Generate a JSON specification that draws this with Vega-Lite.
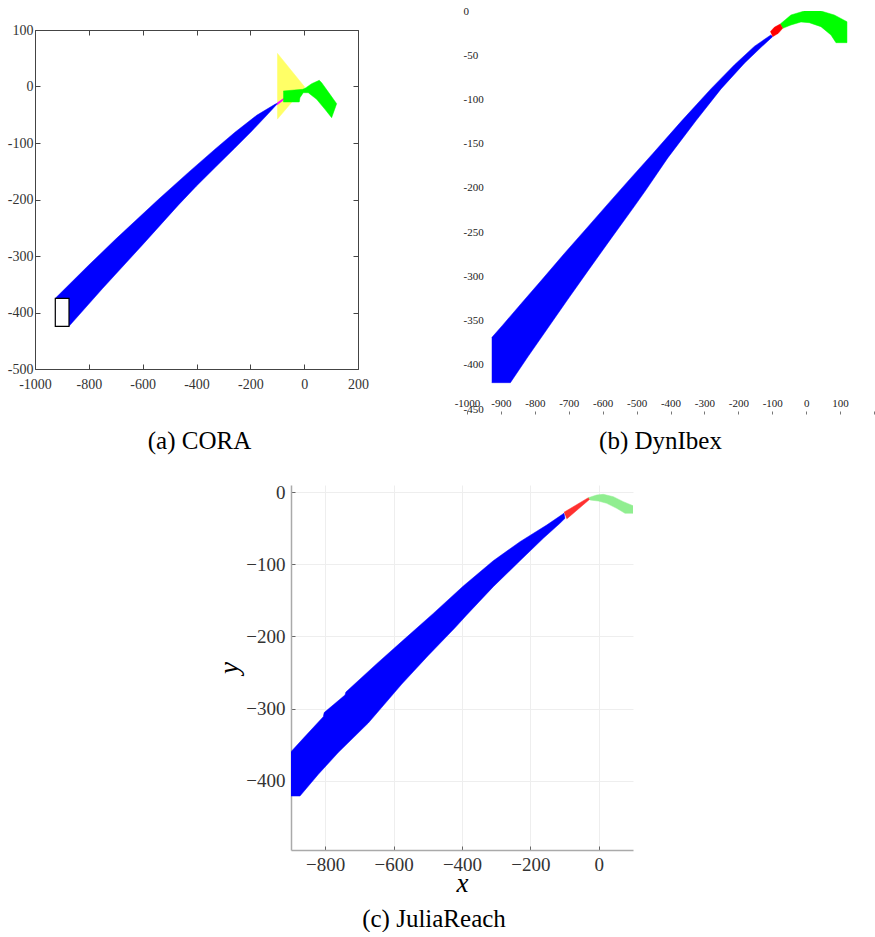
{
  "$schema": "https://vega.github.io/schema/vega-lite/v6.json",
  "background": "white",
  "padding": {"left": 6, "top": 5, "right": 0, "bottom": 0},
  "config": {
    "view": {"stroke": null},
    "title": {"font": "Liberation Serif", "fontSize": 25, "fontWeight": "normal", "color": "#000", "anchor": "middle", "frame": "group"},
    "axis": {"labelFlush": false, "labelOverlap": false, "grid": false, "title": null}
  },
  "datasets": {
    "cora": [
      {"s": "yellow", "i": 1, "x": -100, "y": 59},
      {"s": "yellow", "i": 2, "x": 2, "y": -1},
      {"s": "yellow", "i": 3, "x": -100, "y": -58},
      {"s": "blue", "i": 1, "x": -924.6, "y": -374.9},
      {"s": "blue", "i": 2, "x": -800, "y": -316},
      {"s": "blue", "i": 3, "x": -700, "y": -270},
      {"s": "blue", "i": 4, "x": -542, "y": -200},
      {"s": "blue", "i": 5, "x": -430, "y": -152},
      {"s": "blue", "i": 6, "x": -331.4, "y": -111},
      {"s": "blue", "i": 7, "x": -257.1, "y": -81},
      {"s": "blue", "i": 8, "x": -176.5, "y": -51},
      {"s": "blue", "i": 9, "x": -108.5, "y": -31.5},
      {"s": "blue", "i": 10, "x": -96.2, "y": -28.7},
      {"s": "blue", "i": 11, "x": -133, "y": -48},
      {"s": "blue", "i": 12, "x": -195, "y": -79},
      {"s": "blue", "i": 13, "x": -260, "y": -110},
      {"s": "blue", "i": 14, "x": -330, "y": -143},
      {"s": "blue", "i": 15, "x": -400, "y": -176},
      {"s": "blue", "i": 16, "x": -467.7, "y": -210},
      {"s": "blue", "i": 17, "x": -600, "y": -280},
      {"s": "blue", "i": 18, "x": -750, "y": -358},
      {"s": "blue", "i": 19, "x": -873.7, "y": -424.4},
      {"s": "blue", "i": 20, "x": -924.6, "y": -424.4},
      {"s": "magenta", "i": 1, "x": -102, "y": -33},
      {"s": "magenta", "i": 2, "x": -78, "y": -24.5},
      {"s": "magenta", "i": 3, "x": -76, "y": -21},
      {"s": "magenta", "i": 4, "x": -99, "y": -28.5},
      {"s": "green", "i": 1, "x": -77.6, "y": -8},
      {"s": "green", "i": 2, "x": -5.6, "y": -5},
      {"s": "green", "i": 3, "x": 6.7, "y": -2.1},
      {"s": "green", "i": 4, "x": 27.9, "y": 5},
      {"s": "green", "i": 5, "x": 56.1, "y": 11},
      {"s": "green", "i": 6, "x": 65, "y": 6.7},
      {"s": "green", "i": 7, "x": 95.8, "y": -13.8},
      {"s": "green", "i": 8, "x": 120.7, "y": -30.4},
      {"s": "green", "i": 9, "x": 102.1, "y": -55.2},
      {"s": "green", "i": 10, "x": 77.3, "y": -40.4},
      {"s": "green", "i": 11, "x": 46.4, "y": -22.7},
      {"s": "green", "i": 12, "x": 15.2, "y": -11},
      {"s": "green", "i": 13, "x": -3.3, "y": -11},
      {"s": "green", "i": 14, "x": -15.6, "y": -19.8},
      {"s": "green", "i": 15, "x": -18.2, "y": -27.4},
      {"s": "green", "i": 16, "x": -77.6, "y": -27.4}
    ],
    "dyn": [
      {"s": "blue", "i": 1, "x": -927, "y": -369},
      {"s": "blue", "i": 2, "x": -895, "y": -355},
      {"s": "blue", "i": 3, "x": -840, "y": -330.5},
      {"s": "blue", "i": 4, "x": -780, "y": -304},
      {"s": "blue", "i": 5, "x": -713, "y": -274},
      {"s": "blue", "i": 6, "x": -644, "y": -244},
      {"s": "blue", "i": 7, "x": -580, "y": -216},
      {"s": "blue", "i": 8, "x": -520, "y": -190},
      {"s": "blue", "i": 9, "x": -452, "y": -161},
      {"s": "blue", "i": 10, "x": -369, "y": -125},
      {"s": "blue", "i": 11, "x": -281, "y": -88},
      {"s": "blue", "i": 12, "x": -212, "y": -61},
      {"s": "blue", "i": 13, "x": -153, "y": -40},
      {"s": "blue", "i": 14, "x": -104, "y": -27},
      {"s": "blue", "i": 15, "x": -99, "y": -29},
      {"s": "blue", "i": 16, "x": -133, "y": -41},
      {"s": "blue", "i": 17, "x": -182, "y": -59},
      {"s": "blue", "i": 18, "x": -251, "y": -88},
      {"s": "blue", "i": 19, "x": -325, "y": -124},
      {"s": "blue", "i": 20, "x": -408, "y": -166},
      {"s": "blue", "i": 21, "x": -472, "y": -202},
      {"s": "blue", "i": 22, "x": -507, "y": -221},
      {"s": "blue", "i": 23, "x": -575, "y": -257},
      {"s": "blue", "i": 24, "x": -644, "y": -294},
      {"s": "blue", "i": 25, "x": -703, "y": -326},
      {"s": "blue", "i": 26, "x": -762, "y": -358.5},
      {"s": "blue", "i": 27, "x": -821, "y": -391},
      {"s": "blue", "i": 28, "x": -872, "y": -420},
      {"s": "blue", "i": 29, "x": -927, "y": -420},
      {"s": "red", "i": 1, "x": -105.8, "y": -23.4},
      {"s": "red", "i": 2, "x": -94, "y": -18.5},
      {"s": "red", "i": 3, "x": -76.4, "y": -14.7},
      {"s": "red", "i": 4, "x": -69.3, "y": -19.6},
      {"s": "red", "i": 5, "x": -82.2, "y": -25.2},
      {"s": "red", "i": 6, "x": -98.8, "y": -29},
      {"s": "green", "i": 1, "x": -76.4, "y": -14.7},
      {"s": "green", "i": 2, "x": -44.8, "y": -4.5},
      {"s": "green", "i": 3, "x": -5.6, "y": 0},
      {"s": "green", "i": 4, "x": 43.6, "y": 0},
      {"s": "green", "i": 5, "x": 82.9, "y": -4.5},
      {"s": "green", "i": 6, "x": 120.3, "y": -12.1},
      {"s": "green", "i": 7, "x": 120.3, "y": -35.8},
      {"s": "green", "i": 8, "x": 87.9, "y": -35.8},
      {"s": "green", "i": 9, "x": 73.1, "y": -27.1},
      {"s": "green", "i": 10, "x": 43.6, "y": -17.7},
      {"s": "green", "i": 11, "x": 9.2, "y": -13.2},
      {"s": "green", "i": 12, "x": -15.3, "y": -12.4},
      {"s": "green", "i": 13, "x": -44.8, "y": -15.8},
      {"s": "green", "i": 14, "x": -69.3, "y": -19.6}
    ],
    "julia": [
      {"s": "blue", "i": 1, "x": -900, "y": -359.7},
      {"s": "blue", "i": 2, "x": -864, "y": -341.2},
      {"s": "blue", "i": 3, "x": -805.6, "y": -311.2},
      {"s": "blue", "i": 4, "x": -803, "y": -305.5},
      {"s": "blue", "i": 5, "x": -742.1, "y": -281.1},
      {"s": "blue", "i": 6, "x": -739.5, "y": -277},
      {"s": "blue", "i": 7, "x": -650, "y": -238},
      {"s": "blue", "i": 8, "x": -571.6, "y": -205},
      {"s": "blue", "i": 9, "x": -483.9, "y": -168},
      {"s": "blue", "i": 10, "x": -396.2, "y": -130},
      {"s": "blue", "i": 11, "x": -308.5, "y": -95},
      {"s": "blue", "i": 12, "x": -230.4, "y": -68.6},
      {"s": "blue", "i": 13, "x": -152.3, "y": -45.5},
      {"s": "blue", "i": 14, "x": -101.8, "y": -29.2},
      {"s": "blue", "i": 15, "x": -98.8, "y": -36.2},
      {"s": "blue", "i": 16, "x": -113.5, "y": -43.1},
      {"s": "blue", "i": 17, "x": -162.3, "y": -63.9},
      {"s": "blue", "i": 18, "x": -230.4, "y": -95},
      {"s": "blue", "i": 19, "x": -308.5, "y": -131},
      {"s": "blue", "i": 20, "x": -386.3, "y": -170.2},
      {"s": "blue", "i": 21, "x": -420.5, "y": -188},
      {"s": "blue", "i": 22, "x": -500, "y": -227},
      {"s": "blue", "i": 23, "x": -576, "y": -266},
      {"s": "blue", "i": 24, "x": -674, "y": -320},
      {"s": "blue", "i": 25, "x": -689, "y": -327},
      {"s": "blue", "i": 26, "x": -762, "y": -361},
      {"s": "blue", "i": 27, "x": -820, "y": -391},
      {"s": "blue", "i": 28, "x": -873.7, "y": -421.2},
      {"s": "blue", "i": 29, "x": -900, "y": -421.2},
      {"s": "red", "i": 1, "x": -101.8, "y": -27.8},
      {"s": "red", "i": 2, "x": -30.6, "y": -7.6},
      {"s": "red", "i": 3, "x": -25.7, "y": -9.4},
      {"s": "red", "i": 4, "x": -93.9, "y": -37.1},
      {"s": "green", "i": 1, "x": -30.6, "y": -7.6},
      {"s": "green", "i": 2, "x": -6.1, "y": -3.9},
      {"s": "green", "i": 3, "x": 13.2, "y": -2.9},
      {"s": "green", "i": 4, "x": 42.4, "y": -6.2},
      {"s": "green", "i": 5, "x": 71.6, "y": -13.1},
      {"s": "green", "i": 6, "x": 100, "y": -18.7},
      {"s": "green", "i": 7, "x": 100, "y": -29.2},
      {"s": "green", "i": 8, "x": 76.6, "y": -29.2},
      {"s": "green", "i": 9, "x": 52.3, "y": -22.3},
      {"s": "green", "i": 10, "x": 23.1, "y": -15.4},
      {"s": "green", "i": 11, "x": -1.5, "y": -12.2},
      {"s": "green", "i": 12, "x": -25.7, "y": -10.8}
    ]
  },
  "vconcat": [
    {
      "hconcat": [
        {
          "vconcat": [
            {"width": 1, "height": 11, "mark": "point", "data": {"values": []}},
            {
              "width": 323,
              "height": 339,
              "view": {"stroke": "#444", "strokeWidth": 1},
              "data": {"name": "cora"},
              "title": {"text": "(a) CORA", "orient": "bottom", "offset": 38, "dx": 3},
              "resolve": {"axis": {"x": "independent", "y": "independent"}},
              "layer": [
                {
                  "transform": [{"filter": "datum.s === 'yellow'"}],
                  "mark": {"type": "line", "fill": "#ffff66", "stroke": "#ffff66", "strokeWidth": 0.5},
                  "encoding": {
                    "x": {"field": "x", "type": "quantitative", "scale": {"domain": [-1000, 200], "nice": false, "zero": false},
                      "axis": {"orient": "bottom", "values": [-1000, -800, -600, -400, -200, 0, 200], "format": "d", "labelExpr": "replace(datum.label, '\u2212', '-')", "domain": false, "ticks": true, "tickSize": -5, "tickColor": "#444", "labelPadding": 13, "labelFont": "Liberation Sans Narrow", "labelFontSize": 14, "labelColor": "#333"}},
                    "y": {"field": "y", "type": "quantitative", "scale": {"domain": [-500, 100], "nice": false, "zero": false},
                      "axis": {"orient": "left", "values": [-500, -400, -300, -200, -100, 0, 100], "format": "d", "labelExpr": "replace(datum.label, '\u2212', '-')", "domain": false, "ticks": true, "tickSize": -5, "tickColor": "#444", "labelPadding": 7, "labelFont": "Liberation Sans Narrow", "labelFontSize": 14, "labelColor": "#333"}},
                    "order": {"field": "i", "type": "quantitative"}
                  }
                },
                {
                  "transform": [{"filter": "datum.s === 'blue'"}],
                  "mark": {"type": "line", "fill": "#0000ff", "stroke": "#0000ff", "strokeWidth": 0.5},
                  "encoding": {
                    "x": {"field": "x", "type": "quantitative", "scale": {"domain": [-1000, 200], "nice": false, "zero": false}, "axis": null},
                    "y": {"field": "y", "type": "quantitative", "scale": {"domain": [-500, 100], "nice": false, "zero": false}, "axis": null},
                    "order": {"field": "i", "type": "quantitative"}
                  }
                },
                {
                  "transform": [{"filter": "datum.s === 'magenta'"}],
                  "mark": {"type": "line", "fill": "#ff00ff", "stroke": "#ff00ff", "strokeWidth": 0.5},
                  "encoding": {
                    "x": {"field": "x", "type": "quantitative", "axis": null},
                    "y": {"field": "y", "type": "quantitative", "axis": null},
                    "order": {"field": "i", "type": "quantitative"}
                  }
                },
                {
                  "transform": [{"filter": "datum.s === 'green'"}],
                  "mark": {"type": "line", "fill": "#00ff00", "stroke": "#00ff00", "strokeWidth": 0.5},
                  "encoding": {
                    "x": {"field": "x", "type": "quantitative", "axis": null},
                    "y": {"field": "y", "type": "quantitative", "axis": null},
                    "order": {"field": "i", "type": "quantitative"}
                  }
                },
                {
                  "data": {"values": [{"x1": -924.6, "x2": -873.7, "y1": -424.4, "y2": -374.9}]},
                  "mark": {"type": "rect", "fill": "white", "stroke": "black", "strokeWidth": 1.2},
                  "encoding": {
                    "x": {"field": "x1", "type": "quantitative",
                      "axis": {"orient": "top", "values": [-1000, -800, -600, -400, -200, 0, 200], "labels": false, "domain": false, "ticks": true, "tickSize": -5, "tickColor": "#444"}},
                    "x2": {"field": "x2"},
                    "y": {"field": "y1", "type": "quantitative",
                      "axis": {"orient": "right", "values": [-500, -400, -300, -200, -100, 0, 100], "labels": false, "domain": false, "ticks": true, "tickSize": -5, "tickColor": "#444"}},
                    "y2": {"field": "y2"}
                  }
                }
              ]
            }
          ],
          "spacing": 0
        },
        {
          "width": 407,
          "height": 400,
          "data": {"name": "dyn"},
          "title": {"text": "(b) DynIbex", "orient": "bottom", "offset": 14, "dx": -10},
          "encoding": {
            "x": {"field": "x", "type": "quantitative", "scale": {"domain": [-1000, 200], "nice": false, "zero": false},
              "axis": {"orient": "bottom", "values": [-1000, -900, -800, -700, -600, -500, -400, -300, -200, -100, 0, 100, 200], "format": "d", "labelExpr": "datum.value == 200 ? '' : replace(datum.label, '\u2212', '-')", "domain": false, "ticks": true, "tickSize": 3, "tickColor": "#777", "labelPadding": -11, "labelBaseline": "middle", "labelFont": "Liberation Sans Narrow", "labelFontSize": 11, "labelColor": "#222"}},
            "y": {"field": "y", "type": "quantitative", "scale": {"domain": [-452, 0], "nice": false, "zero": false},
              "axis": {"orient": "left", "values": [0, -50, -100, -150, -200, -250, -300, -350, -400, -450], "format": "d", "labelExpr": "replace(datum.label, '\u2212', '-')", "domain": false, "ticks": false, "tickSize": 0, "labelAlign": "left", "labelBaseline": "middle", "labelPadding": 4, "labelFont": "Liberation Sans Narrow", "labelFontSize": 11, "labelColor": "#222"}},
            "order": {"field": "i", "type": "quantitative"}
          },
          "layer": [
            {"transform": [{"filter": "datum.s === 'blue'"}], "mark": {"type": "line", "fill": "#0000ff", "stroke": "#0000ff", "strokeWidth": 0.5, "clip": true}},
            {"transform": [{"filter": "datum.s === 'green'"}], "mark": {"type": "line", "fill": "#00ff00", "stroke": "#00ff00", "strokeWidth": 0.5, "clip": true}},
            {"transform": [{"filter": "datum.s === 'red'"}], "mark": {"type": "line", "fill": "#ff0000", "stroke": "#ff0000", "strokeWidth": 0.5, "clip": true}}
          ]
        }
      ],
      "spacing": 85
    },
    {
      "hconcat": [
        {"width": 180, "height": 1, "mark": "point", "data": {"values": []}},
        {
          "width": 342,
          "height": 365,
          "data": {"name": "julia"},
          "title": {"text": "(c) JuliaReach", "orient": "bottom", "offset": 11, "dx": -28},
          "encoding": {
            "x": {"field": "x", "type": "quantitative", "scale": {"domain": [-900, 100], "nice": false, "zero": false},
              "axis": {"orient": "bottom", "values": [-800, -600, -400, -200, 0], "format": "d", "domain": true, "domainColor": "#aaaaaa", "domainWidth": 1.5, "ticks": true, "tickSize": -4, "tickColor": "#666", "labelPadding": 9, "labelFont": "Liberation Serif", "labelFontSize": 19, "labelColor": "#333", "grid": true, "gridColor": "#eeeeee", "title": "x", "titleFont": "Liberation Serif", "titleFontStyle": "italic", "titleFontWeight": "normal", "titleFontSize": 27, "titleColor": "#000", "titlePadding": -4}},
            "y": {"field": "y", "type": "quantitative", "scale": {"domain": [-496, 10], "nice": false, "zero": false},
              "axis": {"orient": "left", "values": [0, -100, -200, -300, -400], "format": "d", "domain": true, "domainColor": "#aaaaaa", "domainWidth": 1.5, "ticks": true, "tickSize": -4, "tickColor": "#666", "labelPadding": 10, "labelFont": "Liberation Serif", "labelFontSize": 19, "labelColor": "#333", "grid": true, "gridColor": "#eeeeee", "title": "y", "titleFont": "Liberation Serif", "titleFontStyle": "italic", "titleFontWeight": "normal", "titleFontSize": 27, "titleColor": "#000", "titlePadding": 2}},
            "order": {"field": "i", "type": "quantitative"}
          },
          "layer": [
            {"transform": [{"filter": "datum.s === 'blue'"}], "mark": {"type": "line", "fill": "#0000ff", "stroke": "#0000ff", "strokeWidth": 0.5, "clip": true}},
            {"transform": [{"filter": "datum.s === 'red'"}], "mark": {"type": "line", "fill": "#ff3030", "stroke": "#ff3030", "strokeWidth": 0.5, "clip": true}},
            {"transform": [{"filter": "datum.s === 'green'"}], "mark": {"type": "line", "fill": "#90ee90", "stroke": "#90ee90", "strokeWidth": 0.5, "clip": true}}
          ]
        }
      ],
      "spacing": 0
    }
  ],
  "spacing": 28
}
